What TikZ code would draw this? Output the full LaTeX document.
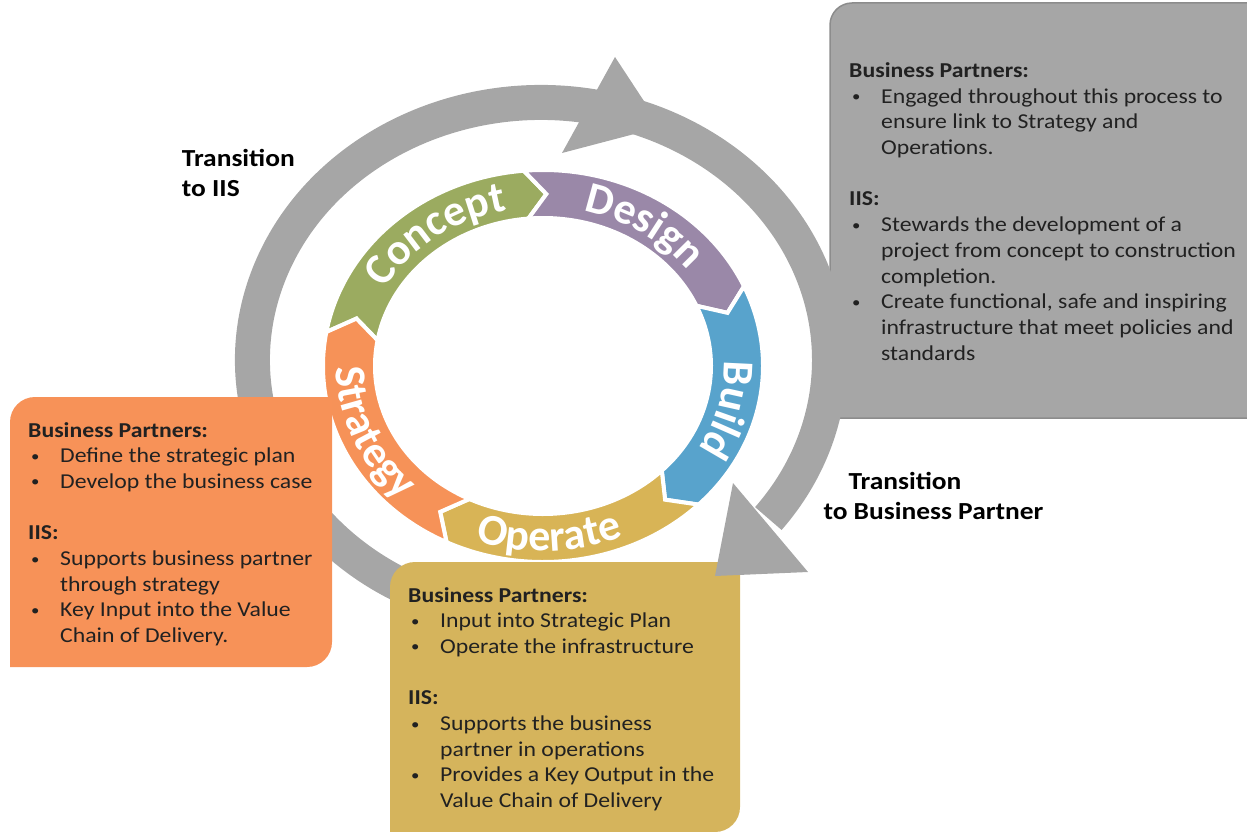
\documentclass[tikz,border=0pt]{standalone}
\usepackage{fontspec}
\setmainfont{Carlito}[FakeStretch=1.12]
\newfontfamily\labelfam{Carlito}
\usetikzlibrary{calc,decorations.text}
\definecolor{ringgray}{RGB}{166,166,166}
\definecolor{boxedge}{RGB}{140,140,140}
\definecolor{cConcept}{RGB}{155,171,96}
\definecolor{cDesign}{RGB}{154,136,168}
\definecolor{cBuild}{RGB}{88,163,204}
\definecolor{cOperate}{RGB}{216,180,86}
\definecolor{cStrategy}{RGB}{246,146,88}
\definecolor{orangebox}{RGB}{247,146,88}
\definecolor{yellowbox}{RGB}{213,180,92}
\definecolor{bodytext}{RGB}{33,33,33}
\newcommand\smallbullet{{\fontsize{15}{15}\selectfont\raisebox{1.5pt}{\textbullet}}}
\newcommand\bitem[1]{\par\hangindent=32pt\hangafter=1\noindent\makebox[32pt][l]{\hspace{3pt}\smallbullet}#1}
\newcommand\boxfont{\fontsize{21.2}{25.7}\selectfont}
\newcommand\labfont{\labelfam\fontsize{44}{44}\selectfont\bfseries}
\newcommand\drawseg[3]{%
  \pgfmathsetmacro\segtip{#2+6}\pgfmathsetmacro\segnotch{#1+6}%
  \filldraw[segment=#3] ($(C)+(#1:220 and 196)$) arc[start angle=#1, end angle=#2, x radius=220, y radius=196]
    -- ($(C)+(\segtip:194 and 172)$) -- ($(C)+(#2:168 and 148)$)
    arc[start angle=#2, end angle=#1, x radius=168, y radius=148]
    -- ($(C)+(\segnotch:194 and 172)$) -- cycle;}
% label along an elliptical arc: {start}{end}{x radius}{y radius}{text}
\newcommand\seglab[5]{%
  \path[seglabel=#5] ($(C)+(#1:#3 and #4)$) arc[start angle=#1, end angle=#2, x radius=#3, y radius=#4];}
\tikzset{
  ring/.style={draw=ringgray, line width=35pt},
  ringhead/.style={fill=ringgray},
  segment/.style={fill=#1, draw=white, line width=4pt, line join=miter},
  seglabel/.style={decorate, decoration={text along path, text align=center, text color=white, text={|\labfont|#1}}},
  infobox/.style={fill=#1},
  infotext/.style={anchor=base west, inner sep=0pt, text=bodytext},
  translabel/.style={anchor=base west, inner sep=0pt, font=\fontsize{24.5}{30}\selectfont\bfseries, text=black}
}
\begin{document}
\begin{tikzpicture}[x=1pt,y=-1pt]
\useasboundingbox (0,0) rectangle (1247,832);
\coordinate (G) at (541,360);
\coordinate (C) at (543,366);

% grey info box (top right)
\path[fill=ringgray, draw=boxedge, line width=1.5pt] (1262,418) -- (830,418) -- (830,150) [rounded corners=22pt] -- (830,3) -- (1000,3) [sharp corners] -- (1262,3);

% grey cycle ring
\draw[ring] ($(G)+(110:288.5 and 257.5)$) arc[start angle=110, end angle=398, x radius=288.5, y radius=257.5];
\fill[ringhead] (615,57) -- (661,127) -- (562,153) -- cycle;

% coloured chevron ring
\drawseg{-170}{-95}{cConcept}
\drawseg{-95}{-24}{cDesign}
\drawseg{-24}{45}{cBuild}
\drawseg{45}{116}{cOperate}
\drawseg{116}{190}{cStrategy}

\seglab{-167}{-87}{181}{159}{Concept}
\seglab{-96}{-16}{181}{159}{Design}
\seglab{-26}{54}{181}{159}{Build}
\seglab{128}{48}{207}{185}{Operate}
\seglab{197}{117}{207}{185}{Strategy}

% orange box
\path[infobox=orangebox] (10,667) -- (10,500) [rounded corners=25pt] -- (10,397) -- (200,397) [sharp corners] -- (332,397) -- (332,560) [rounded corners=25pt] -- (332,667) -- (200,667) [sharp corners] -- cycle;
% yellow box
\path[infobox=yellowbox] (390,832) -- (390,650) [rounded corners=25pt] -- (390,562) -- (560,562) [sharp corners] -- (740,562) -- (740,700) [rounded corners=25pt] -- (740,832) -- (600,832) [sharp corners] -- cycle;

% bottom-right arrow head
\fill[ringhead] (733,483) -- (808,572) -- (715,576) -- cycle;

% texts
\node[infotext] (gtext) at (849,77.5) {\parbox[t]{480pt}{\boxfont
\textbf{Business Partners:}
\bitem{Engaged throughout this process to\newline ensure link to Strategy and\newline Operations.}
\par\vspace{25.7pt}\noindent\textbf{IIS:}
\bitem{Stewards the development of a\newline project from concept to construction\newline completion.}
\bitem{Create functional, safe and inspiring\newline infrastructure that meet policies and\newline standards}}};

\node[infotext] (otext) at (28,437) {\parbox[t]{480pt}{\boxfont
\textbf{Business Partners:}
\bitem{Define the strategic plan}
\bitem{Develop the business case}
\par\vspace{25.7pt}\noindent\textbf{IIS:}
\bitem{Supports business partner\newline through strategy}
\bitem{Key Input into the Value\newline Chain of Delivery.}}};

\node[infotext] (ytext) at (408,602) {\parbox[t]{480pt}{\boxfont
\textbf{Business Partners:}
\bitem{Input into Strategic Plan}
\bitem{Operate the infrastructure}
\par\vspace{25.7pt}\noindent\textbf{IIS:}
\bitem{Supports the business\newline partner in operations}
\bitem{Provides a Key Output in the\newline Value Chain of Delivery}}};

\node[translabel] (tiis) at (181.7,166.7) {\parbox[t]{200pt}{Transition\newline to IIS}};
\node[translabel] (tbp) at (823.3,489.3) {\parbox[t]{300pt}{\hspace*{25pt}Transition\newline to Business Partner}};
\end{tikzpicture}
\end{document}
